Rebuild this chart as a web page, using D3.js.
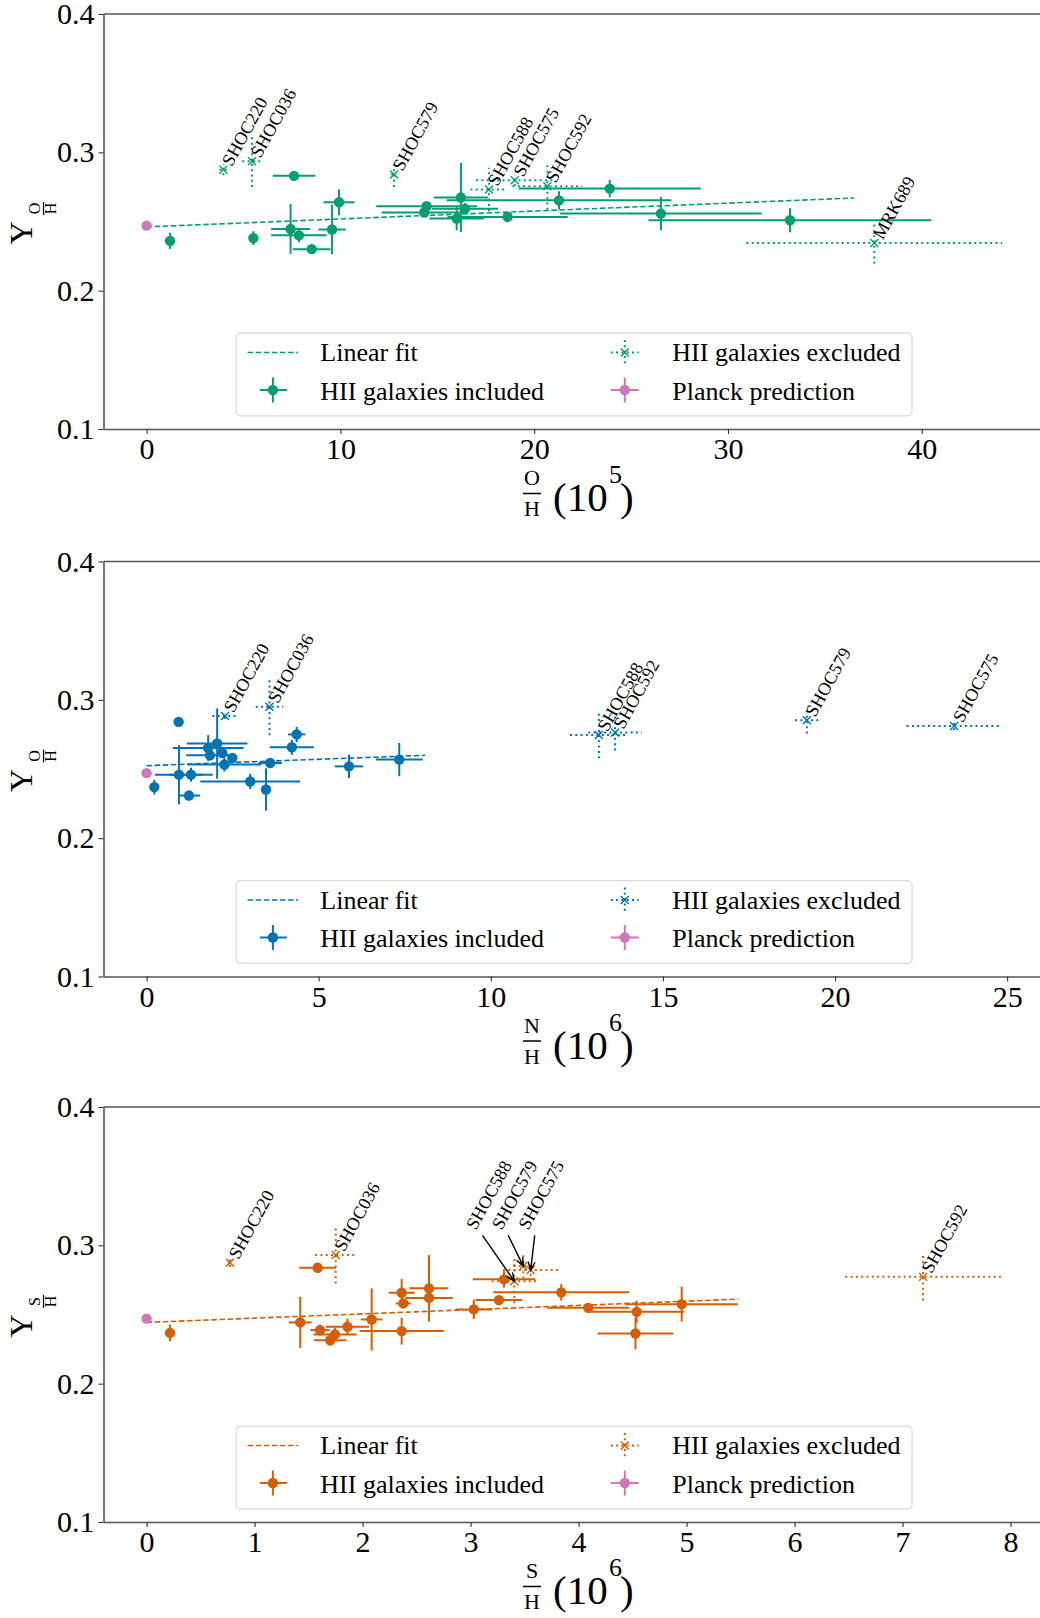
<!DOCTYPE html>
<html><head><meta charset="utf-8">
<script src="https://cdn.jsdelivr.net/npm/d3@7"></script>
<style>
body{margin:0;background:#fff}
svg{display:block}
svg text{font-family:"Liberation Serif","Times New Roman",serif !important;fill:#000}
</style>
</head><body>
<svg id="chart" width="1040" height="1618"></svg>
<script>
// ---------- shared ----------
const yTicks = [0.1, 0.2, 0.3, 0.4];
const yLim = [0.1, 0.4];
const planckY = 0.247;
const planckYerr = 0.001;
const legendLabels = ["Linear fit", "HII galaxies included", "HII galaxies excluded", "Planck prediction"];

// ---------- panel 1 : O/H (1e5) ----------
const ohXTicks = [0, 10, 20, 30, 40];
const ohXLim = [-2.224, 46.36];
const ohIncX    = [1.21, 5.51, 7.61, 7.43, 7.86, 8.52, 9.57, 9.93, 14.45, 14.33, 16.22, 16.0, 16.43, 18.63, 21.28, 23.9, 26.54, 33.2];
const ohIncY    = [0.236, 0.238, 0.283, 0.2446, 0.240, 0.230, 0.2442, 0.2639, 0.261, 0.2565, 0.2673, 0.2521, 0.2593, 0.2533, 0.2653, 0.2738, 0.2557, 0.2509];
const ohIncXerr = [0.1, 0.1, 1.1, 1.0, 1.43, 0.97, 0.7, 0.8, 2.6, 2.2, 1.4, 1.4, 1.7, 3.1, 5.8, 4.7, 5.2, 7.3];
const ohIncYerr = [0.0058, 0.005, 0.002, 0.018, 0.005, 0.002, 0.018, 0.0094, 0.003, 0.003, 0.025, 0.0085, 0.004, 0.002, 0.0066, 0.0063, 0.012, 0.0087];
const ohExcName = ["SHOC220", "SHOC036", "SHOC579", "SHOC588", "SHOC575", "SHOC592", "MRK689"];
const ohExcX    = [3.96, 5.44, 12.77, 17.67, 19.0, 20.68, 37.55];
const ohExcY    = [0.2875, 0.2935, 0.2839, 0.2731, 0.2798, 0.2755, 0.2345];
const ohExcXerr = [0.2, 0.5, 0.15, 0.96, 2.0, 1.8, 6.6];
const ohExcYerr = [0.004, 0.0186, 0.009, 0.0157, 0.004, 0.017, 0.015];
const ohFitX = [0, 36.5];
const ohFitY = [0.2461, 0.267];

// ---------- panel 2 : N/H (1e6) ----------
const nhXTicks = [0, 5, 10, 15, 20, 25];
const nhXLim = [-1.252, 26.10];
const nhIncX    = [0.224, 0.93, 0.94, 1.23, 1.29, 1.79, 1.84, 2.05, 2.20, 2.26, 2.49, 3.01, 3.47, 3.59, 4.22, 4.36, 5.88, 7.34];
const nhIncY    = [0.2369, 0.2841, 0.2459, 0.2308, 0.2459, 0.2652, 0.2599, 0.2684, 0.2616, 0.2532, 0.258, 0.241, 0.2352, 0.2543, 0.2657, 0.275, 0.2519, 0.2568];
const nhIncXerr = [0.05, 0.05, 0.70, 0.32, 0.63, 1.03, 0.69, 0.88, 0.1, 1.07, 0.1, 1.45, 0.1, 0.34, 0.64, 0.25, 0.41, 0.68];
const nhIncYerr = [0.0053, 0.002, 0.0214, 0.003, 0.005, 0.0093, 0.003, 0.0254, 0.003, 0.005, 0.003, 0.0055, 0.0153, 0.003, 0.0055, 0.0055, 0.0085, 0.012];
const nhExcName = ["SHOC220", "SHOC036", "SHOC588", "SHOC592", "SHOC579", "SHOC575"];
const nhExcX    = [2.28, 3.57, 13.14, 13.61, 19.18, 23.46];
const nhExcY    = [0.2883, 0.295, 0.2745, 0.2764, 0.2853, 0.281];
const nhExcXerr = [0.37, 0.4, 0.84, 0.78, 0.34, 1.38];
const nhExcYerr = [0.002, 0.0206, 0.0167, 0.013, 0.0097, 0.003];
const nhFitX = [0, 8.09];
const nhFitY = [0.2524, 0.2599];

// ---------- panel 3 : S/H (1e6) ----------
const shXTicks = [0, 1, 2, 3, 4, 5, 6, 7, 8];
const shXLim = [-0.399, 8.319];
const shIncX    = [0.217, 1.423, 1.584, 1.606, 1.70, 1.744, 1.86, 2.084, 2.362, 2.362, 2.377, 2.615, 2.615, 3.03, 3.263, 3.31, 3.84, 4.09, 4.538, 4.527, 4.955];
const shIncY    = [0.2367, 0.2443, 0.2838, 0.2387, 0.2314, 0.2356, 0.2411, 0.2464, 0.238, 0.2657, 0.258, 0.2689, 0.262, 0.2537, 0.2604, 0.2754, 0.266, 0.2548, 0.2519, 0.2363, 0.2575];
const shIncXerr = [0.02, 0.106, 0.17, 0.09, 0.15, 0.2, 0.2, 0.1, 0.39, 0.12, 0.07, 0.18, 0.22, 0.17, 0.216, 0.29, 0.63, 0.38, 0.44, 0.35, 0.52];
const shIncYerr = [0.006, 0.0185, 0.002, 0.004, 0.004, 0.005, 0.006, 0.0225, 0.0097, 0.0099, 0.003, 0.024, 0.01, 0.007, 0.003, 0.006, 0.006, 0.003, 0.008, 0.0115, 0.0127];
const shExcName = ["SHOC220", "SHOC036", "SHOC588", "SHOC579", "SHOC575", "SHOC592"];
const shExcX    = [0.772, 1.751, 3.405, 3.488, 3.556, 7.19];
const shExcY    = [0.2874, 0.293, 0.2741, 0.285, 0.2821, 0.2772];
const shExcXerr = [0.02, 0.19, 0.21, 0.09, 0.256, 0.72];
const shExcYerr = [0.003, 0.0205, 0.016, 0.009, 0.004, 0.017];
const shLabelX  = [null, null, 3.05, 3.288, 3.534, null];
const shLabelY  = [null, null, 0.3105, 0.3105, 0.3105, null];
const shFitX = [0, 5.48];
const shFitY = [0.2443, 0.2611];

// ---------- drawing ----------
const svg = d3.select("#chart");
const PINK = "#cc78bc";
const LEFT = 103.5, RIGHT = 1045;
const SERIF = '"Liberation Serif","Times New Roman",serif';

const panels = [
  {top: 14, bottom: 429, xlim: ohXLim, xticks: ohXTicks, color: "#029e73", sym: "O", exp: "5",
   inc: [ohIncX, ohIncY, ohIncXerr, ohIncYerr], exc: [ohExcName, ohExcX, ohExcY, ohExcXerr, ohExcYerr],
   fit: [ohFitX, ohFitY], ylabSub: "O"},
  {top: 561.5, bottom: 976.5, xlim: nhXLim, xticks: nhXTicks, color: "#0173b2", sym: "N", exp: "6",
   inc: [nhIncX, nhIncY, nhIncXerr, nhIncYerr], exc: [nhExcName, nhExcX, nhExcY, nhExcXerr, nhExcYerr],
   fit: [nhFitX, nhFitY], ylabSub: "O"},
  {top: 1107, bottom: 1522, xlim: shXLim, xticks: shXTicks, color: "#d55e00", sym: "S", exp: "6",
   inc: [shIncX, shIncY, shIncXerr, shIncYerr], exc: [shExcName, shExcX, shExcY, shExcXerr, shExcYerr],
   fit: [shFitX, shFitY], ylabSub: "S", lab: [shLabelX, shLabelY]}
];

function errbar(g, cx, cy, x0, x1, y0, y1, color, dotted, lw) {
  const s = g.append("g").attr("stroke", color).attr("stroke-width", lw).attr("fill", "none");
  if (dotted) s.attr("stroke-dasharray", "2,3.3");
  s.append("line").attr("x1", x0).attr("x2", x1).attr("y1", cy).attr("y2", cy);
  s.append("line").attr("x1", cx).attr("x2", cx).attr("y1", y0).attr("y2", y1);
}
function xMarker(g, cx, cy, r, color) {
  g.append("path")
    .attr("d", `M${cx - r},${cy - r}L${cx + r},${cy + r}M${cx - r},${cy + r}L${cx + r},${cy - r}`)
    .attr("stroke", color).attr("stroke-width", 1.4).attr("fill", "none");
}

panels.forEach(p => {
  const g = svg.append("g");
  const x = d3.scaleLinear().domain(p.xlim).range([LEFT, RIGHT]);
  const y = d3.scaleLinear().domain(yLim).range([p.bottom, p.top]);

  // fit
  g.append("path")
    .datum(d3.zip(p.fit[0], p.fit[1]))
    .attr("d", d3.line().x(d => x(d[0])).y(d => y(d[1])))
    .attr("fill", "none").attr("stroke", p.color).attr("stroke-width", 1.6)
    .attr("stroke-dasharray", "5.5,2.6");

  // excluded
  const [en, ex, ey, exe, eye] = p.exc;
  en.forEach((name, i) => {
    errbar(g, x(ex[i]), y(ey[i]), x(ex[i] - exe[i]), x(ex[i] + exe[i]), y(ey[i] - eye[i]), y(ey[i] + eye[i]), p.color, true, 2);
    xMarker(g, x(ex[i]), y(ey[i]), 4, p.color);
  });

  // included
  const [ix, iy, ixe, iye] = p.inc;
  ix.forEach((v, i) => {
    errbar(g, x(v), y(iy[i]), x(v - ixe[i]), x(v + ixe[i]), y(iy[i] - iye[i]), y(iy[i] + iye[i]), p.color, false, 2);
  });
  g.selectAll(null).data(d3.range(ix.length)).join("circle")
    .attr("cx", i => x(ix[i])).attr("cy", i => y(iy[i])).attr("r", 5.2).attr("fill", p.color);

  // planck
  errbar(g, x(0), y(planckY), x(0), x(0), y(planckY - planckYerr), y(planckY + planckYerr), PINK, false, 2);
  g.append("circle").attr("cx", x(0)).attr("cy", y(planckY)).attr("r", 5.2).attr("fill", PINK);

  // labels
  en.forEach((name, i) => {
    const px = x(ex[i]), py = y(ey[i]);
    if (p.lab && p.lab[0][i] != null) {
      const tx = x(p.lab[0][i]), ty = y(p.lab[1][i]);
      g.append("text").attr("transform", `translate(${tx},${ty}) rotate(-61)`)
        .attr("font-size", 18).text(name);
      const sx = tx + 6.5, sy = ty + 4.5;
      const ang = Math.atan2(py - sy, px - sx);
      const hl = 9, ha = 0.4;
      g.append("path")
        .attr("d", `M${sx},${sy}L${px},${py}M${px - hl * Math.cos(ang - ha)},${py - hl * Math.sin(ang - ha)}L${px},${py}L${px - hl * Math.cos(ang + ha)},${py - hl * Math.sin(ang + ha)}`)
        .attr("stroke", "#000").attr("stroke-width", 1.4).attr("fill", "none");
    } else {
      g.append("text").attr("transform", `translate(${px + 8.5},${py - 2.5}) rotate(-61)`)
        .attr("font-size", 18).text(name);
    }
  });

  // axes
  const xa = g.append("g").attr("transform", `translate(0,${p.bottom})`)
    .call(d3.axisBottom(x).tickValues(p.xticks).tickSize(5).tickSizeOuter(0).tickPadding(4).tickFormat(d3.format("d")));
  const ya = g.append("g").attr("transform", `translate(${LEFT},0)`)
    .call(d3.axisLeft(y).tickValues(yTicks).tickSize(5).tickSizeOuter(0).tickPadding(4).tickFormat(d3.format(".1f")));
  [xa, ya].forEach(a => {
    a.attr("font-family", null).attr("font-size", null);
    a.selectAll("text").style("font-family", SERIF).style("font-size", "30px").attr("fill", "#000");
    a.selectAll("line").attr("stroke", "#333").attr("stroke-width", 1.1);
    a.select(".domain").attr("stroke", "#555").attr("stroke-width", 1.6);
  });
  g.append("line").attr("x1", LEFT).attr("x2", RIGHT).attr("y1", p.top).attr("y2", p.top)
    .attr("stroke", "#555").attr("stroke-width", 1.6);

  // x label
  const b = p.bottom;
  const xl = g.append("g");
  xl.append("text").attr("x", 532).attr("y", b + 56).attr("text-anchor", "middle").attr("font-size", 22).text(p.sym);
  xl.append("line").attr("x1", 523).attr("x2", 541).attr("y1", b + 64.5).attr("y2", b + 64.5).attr("stroke", "#000").attr("stroke-width", 1.5);
  xl.append("text").attr("x", 532).attr("y", b + 87).attr("text-anchor", "middle").attr("font-size", 22).text("H");
  xl.append("text").attr("x", 553).attr("y", b + 82).attr("font-size", 41).text("(10");
  xl.append("text").attr("x", 609).attr("y", b + 54).attr("font-size", 26).text(p.exp);
  xl.append("text").attr("x", 620).attr("y", b + 82).attr("font-size", 41).text(")");

  // y label
  const cy = (p.top + p.bottom) / 2 + 2;
  const yl = g.append("g").attr("transform", `translate(32,${cy}) rotate(-90)`);
  yl.append("text").attr("x", -21).attr("y", 0).attr("font-size", 32).text("Y");
  yl.append("text").attr("x", 15).attr("y", 8).attr("text-anchor", "middle").attr("font-size", 16).text(p.ylabSub);
  yl.append("line").attr("x1", 8.5).attr("x2", 21.5).attr("y1", 11.5).attr("y2", 11.5).attr("stroke", "#000").attr("stroke-width", 1.2);
  yl.append("text").attr("x", 15).attr("y", 24).attr("text-anchor", "middle").attr("font-size", 16).text("H");

  // legend
  const lx = 236.3, ly = p.bottom - 95.8;
  const lg = g.append("g").attr("transform", `translate(${lx},${ly})`);
  lg.append("rect").attr("x", 0).attr("y", 0).attr("width", 675.7).attr("height", 82.6).attr("rx", 4)
    .attr("fill", "#fff").attr("fill-opacity", 0.8).attr("stroke", "#d9d9d9").attr("stroke-width", 1.2);
  const r1 = 19.3, r2 = 56.8;
  lg.append("line").attr("x1", 11.3).attr("x2", 61.9).attr("y1", r1).attr("y2", r1)
    .attr("stroke", p.color).attr("stroke-width", 1.6).attr("stroke-dasharray", "5.5,2.6");
  errbar(lg, 36.6, r2, 23.6, 50.6, r2 - 12.5, r2 + 12.5, p.color, false, 2);
  lg.append("circle").attr("cx", 36.6).attr("cy", r2).attr("r", 5.2).attr("fill", p.color);
  errbar(lg, 388.5, r1, 374.5, 402.5, r1 - 12.5, r1 + 12.5, p.color, true, 2);
  xMarker(lg, 388.5, r1, 4, p.color);
  errbar(lg, 388.5, r2, 374.5, 402.5, r2 - 12.5, r2 + 12.5, PINK, false, 2);
  lg.append("circle").attr("cx", 388.5).attr("cy", r2).attr("r", 5.2).attr("fill", PINK);
  const tx = [84, 84, 436, 436], ty = [28.3, 66.8, 28.3, 66.8];
  [0, 1, 2, 3].forEach(k => {
    lg.append("text").attr("x", tx[k]).attr("y", ty[k]).attr("font-size", 26).text(legendLabels[k]);
  });
});
</script>
</body></html>
